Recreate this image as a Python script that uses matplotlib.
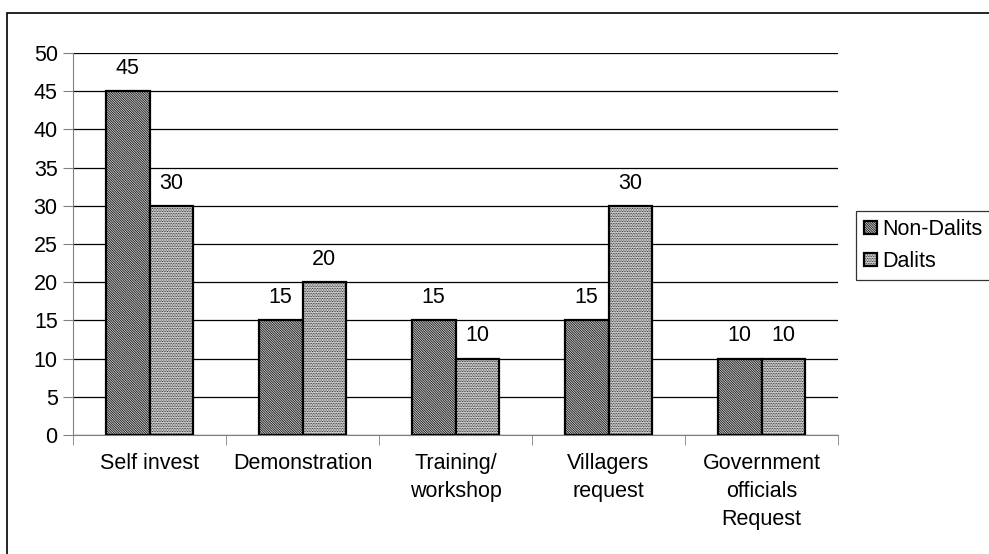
import matplotlib.pyplot as plt
import matplotlib.patches as mpatches
import numpy as np

plt.rcParams['font.family'] = ['Liberation Sans', 'DejaVu Sans']
plt.rcParams['hatch.linewidth'] = 0.5

categories = ['Self invest', 'Demonstration', 'Training/\nworkshop',
              'Villagers\nrequest', 'Government\nofficials\nRequest']
non_dalits = [45, 15, 15, 15, 10]
dalits = [30, 20, 10, 30, 10]
yticks = list(range(0, 55, 5))

fs = 15.5

fig = plt.figure(figsize=(9.89, 5.54), dpi=100)
ax = fig.add_axes([73 / 989, 1 - 435 / 554, (838 - 73) / 989, (435 - 53) / 554])

# outer chart border (only top/left fall inside the image)
fig.patches.append(mpatches.Rectangle((7 / 989, -0.1), 1.2, 1 - 13 / 554 + 0.1,
                                      transform=fig.transFigure, fill=False,
                                      edgecolor='black', linewidth=1.2))

x = np.arange(len(categories))
w = 0.285
b1 = ax.bar(x - w / 2, non_dalits, w, facecolor='#c8c8c8', hatch='\\' * 14,
            edgecolor='black', linewidth=1.6, label='Non-Dalits', zorder=3)
b2 = ax.bar(x + w / 2, dalits, w, facecolor='#e2e2e2', hatch='.' * 10,
            edgecolor='black', linewidth=1.6, label='Dalits', zorder=3)

for xi, v in zip(x - w / 2, non_dalits):
    ax.text(xi, v + 1.6, str(v), ha='center', va='bottom', fontsize=fs)
for xi, v in zip(x + w / 2, dalits):
    ax.text(xi, v + 1.6, str(v), ha='center', va='bottom', fontsize=fs)

ax.set_xlim(-0.5, len(categories) - 0.5)
ax.set_ylim(0, 50)
ax.set_yticks(yticks)
ax.tick_params(axis='y', labelsize=fs, length=7, color='#808080', pad=4)
ax.yaxis.grid(True, color='black', linewidth=0.9, zorder=0)
ax.set_axisbelow(True)

ax.set_xticks(x)
ax.set_xticklabels(categories, fontsize=fs, linespacing=1.45)
ax.tick_params(axis='x', length=0, pad=13)
ax.set_xticks(np.arange(-0.5, len(categories)), minor=True)
ax.tick_params(axis='x', which='minor', length=7, color='#808080', direction='out')

for s in ['top', 'right']:
    ax.spines[s].set_visible(False)
ax.spines['left'].set_color('#808080')
ax.spines['bottom'].set_color('#808080')

leg = fig.legend(handles=[b1, b2], loc='upper left',
                 bbox_to_anchor=(856 / 989, 1 - 211 / 554), frameon=True,
                 fancybox=False, edgecolor='black', fontsize=fs,
                 handlelength=0.6, handleheight=0.6, handletextpad=0.25,
                 borderpad=0.38, labelspacing=0.5, borderaxespad=0)
leg.get_frame().set_linewidth(0.9)

fig.savefig('out.png', dpi=100)
